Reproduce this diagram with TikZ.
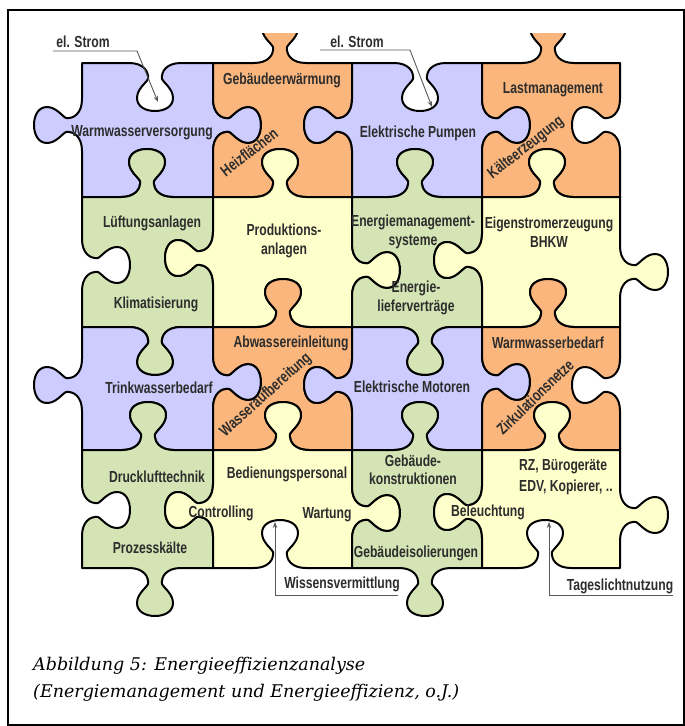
\documentclass[tikz,border=0pt]{standalone}
\usepackage{fontspec}
\newfontfamily\labfont[FakeStretch=0.76]{Liberation Sans Bold}
\newfontfamily\capfont{DejaVu Serif}
\usetikzlibrary{arrows.meta}
\definecolor{cpur}{RGB}{204,204,255}
\definecolor{cora}{RGB}{250,182,124}
\definecolor{cgrn}{RGB}{212,228,180}
\definecolor{cyel}{RGB}{255,255,204}
\definecolor{labc}{RGB}{45,45,45}
% horizontal edge tab: #1 centre x, #2 y, #3 direction (+1 down,-1 up), #4 traversal (+1 left->right)
\newcommand{\htab}[4]{%
 -- ({#1-26*(#4)},{#2})
 .. controls ({#1-12*(#4)},{#2}) and ({#1-6*(#4)},{#2+8*(#3)}) .. ({#1-7*(#4)},{#2+16*(#3)})
 .. controls ({#1-9*(#4)},{#2+20*(#3)}) and ({#1-18*(#4)},{#2+26*(#3)}) .. ({#1-18*(#4)},{#2+35*(#3)})
 .. controls ({#1-18*(#4)},{#2+44*(#3)}) and ({#1-9*(#4)},{#2+48*(#3)}) .. ({#1},{#2+48*(#3)})
 .. controls ({#1+9*(#4)},{#2+48*(#3)}) and ({#1+18*(#4)},{#2+44*(#3)}) .. ({#1+18*(#4)},{#2+35*(#3)})
 .. controls ({#1+18*(#4)},{#2+26*(#3)}) and ({#1+9*(#4)},{#2+20*(#3)}) .. ({#1+7*(#4)},{#2+16*(#3)})
 .. controls ({#1+6*(#4)},{#2+8*(#3)}) and ({#1+12*(#4)},{#2}) .. ({#1+26*(#4)},{#2})}
% vertical edge tab: #1 centre y, #2 x, #3 direction (+1 right,-1 left), #4 traversal (+1 downwards)
\newcommand{\vtab}[4]{%
 -- ({#2},{#1-26*(#4)})
 .. controls ({#2},{#1-12*(#4)}) and ({#2+8*(#3)},{#1-6*(#4)}) .. ({#2+16*(#3)},{#1-7*(#4)})
 .. controls ({#2+20*(#3)},{#1-9*(#4)}) and ({#2+26*(#3)},{#1-18*(#4)}) .. ({#2+35*(#3)},{#1-18*(#4)})
 .. controls ({#2+44*(#3)},{#1-18*(#4)}) and ({#2+48*(#3)},{#1-9*(#4)}) .. ({#2+48*(#3)},{#1})
 .. controls ({#2+48*(#3)},{#1+9*(#4)}) and ({#2+44*(#3)},{#1+18*(#4)}) .. ({#2+35*(#3)},{#1+18*(#4)})
 .. controls ({#2+26*(#3)},{#1+18*(#4)}) and ({#2+20*(#3)},{#1+9*(#4)}) .. ({#2+16*(#3)},{#1+7*(#4)})
 .. controls ({#2+8*(#3)},{#1+6*(#4)}) and ({#2},{#1+12*(#4)}) .. ({#2},{#1+26*(#4)})}
\tikzset{
  piece/.style={draw=black, line width=2pt, line join=round},
  lab/.style={font={\labfont\fontsize{16}{18.5}\selectfont}, text=labc, inner sep=0pt, align=center},
  ptr/.style={draw=black!65, line width=0.9pt},
  ptrtip/.style={ptr, -{Stealth[length=6pt,width=4.5pt]}},
  capt/.style={font={\capfont\itshape\fontsize{17.5}{21}\selectfont}, inner sep=0pt, anchor=base west},
}
\begin{document}
\begin{tikzpicture}[x=1pt,y=-1pt]
\useasboundingbox (0,0) rectangle (685,726);
\fill[white] (0,0) rectangle (685,726);
\draw[line width=1.8pt] (8,10) rectangle (684,725);
\begin{scope}
\clip (0,33) rectangle (685,726);
% row 1
\filldraw[piece, fill=cpur] (82,63) \htab{155}{63}{1}{1} -- (213,63) \vtab{125}{213}{1}{1} -- (213,197) \htab{147}{197}{-1}{-1} -- (82,197) \vtab{125}{82}{-1}{-1} -- cycle;
\filldraw[piece, fill=cora] (213,63) \htab{280}{63}{-1}{1} -- (352,63) \vtab{125}{352}{-1}{1} -- (352,197) \htab{280}{197}{-1}{-1} -- (213,197) \vtab{125}{213}{1}{-1} -- cycle;
\filldraw[piece, fill=cpur] (352,63) \htab{420}{63}{1}{1} -- (482,63) \vtab{125}{482}{1}{1} -- (482,197) \htab{415}{197}{-1}{-1} -- (352,197) \vtab{125}{352}{-1}{-1} -- cycle;
\filldraw[piece, fill=cora] (482,63) \htab{548}{63}{-1}{1} -- (620,63) \vtab{125}{620}{-1}{1} -- (620,197) \htab{547}{197}{-1}{-1} -- (482,197) \vtab{125}{482}{1}{-1} -- cycle;
% row 2
\filldraw[piece, fill=cgrn] (82,197) \htab{147}{197}{-1}{1} -- (213,197) \vtab{258}{213}{-1}{1} -- (213,327) \htab{155}{327}{1}{-1} -- (82,327) \vtab{265}{82}{1}{-1} -- cycle;
\filldraw[piece, fill=cyel] (213,197) \htab{280}{197}{-1}{1} -- (352,197) \vtab{270}{352}{1}{1} -- (352,327) \htab{283}{327}{-1}{-1} -- (213,327) \vtab{258}{213}{-1}{-1} -- cycle;
\filldraw[piece, fill=cgrn] (352,197) \htab{415}{197}{-1}{1} -- (482,197) \vtab{260}{482}{-1}{1} -- (482,327) \htab{425}{327}{1}{-1} -- (352,327) \vtab{270}{352}{1}{-1} -- cycle;
\filldraw[piece, fill=cyel] (482,197) \htab{547}{197}{-1}{1} -- (620,197) \vtab{272}{620}{1}{1} -- (620,327) \htab{548}{327}{-1}{-1} -- (482,327) \vtab{260}{482}{-1}{-1} -- cycle;
% row 3
\filldraw[piece, fill=cpur] (82,327) \htab{155}{327}{1}{1} -- (213,327) \vtab{382}{213}{1}{1} -- (213,450) \htab{148}{450}{-1}{-1} -- (82,450) \vtab{385}{82}{-1}{-1} -- cycle;
\filldraw[piece, fill=cora] (213,327) \htab{283}{327}{-1}{1} -- (352,327) \vtab{385}{352}{-1}{1} -- (352,450) \htab{283}{450}{-1}{-1} -- (213,450) \vtab{382}{213}{1}{-1} -- cycle;
\filldraw[piece, fill=cpur] (352,327) \htab{425}{327}{1}{1} -- (482,327) \vtab{382}{482}{1}{1} -- (482,450) \htab{420}{450}{-1}{-1} -- (352,450) \vtab{385}{352}{-1}{-1} -- cycle;
\filldraw[piece, fill=cora] (482,327) \htab{548}{327}{-1}{1} -- (620,327) \vtab{385}{620}{-1}{1} -- (620,450) \htab{552}{450}{-1}{-1} -- (482,450) \vtab{382}{482}{1}{-1} -- cycle;
% row 4
\filldraw[piece, fill=cgrn] (82,450) \htab{148}{450}{-1}{1} -- (213,450) \vtab{510}{213}{-1}{1} -- (213,568) \htab{155}{568}{1}{-1} -- (82,568) \vtab{510}{82}{1}{-1} -- cycle;
\filldraw[piece, fill=cyel] (213,450) \htab{283}{450}{-1}{1} -- (352,450) \vtab{513}{352}{1}{1} -- (352,568) \htab{280}{568}{-1}{-1} -- (213,568) \vtab{510}{213}{-1}{-1} -- cycle;
\filldraw[piece, fill=cgrn] (352,450) \htab{420}{450}{-1}{1} -- (482,450) \vtab{512}{482}{-1}{1} -- (482,568) \htab{425}{568}{1}{-1} -- (352,568) \vtab{513}{352}{1}{-1} -- cycle;
\filldraw[piece, fill=cyel] (482,450) \htab{552}{450}{-1}{1} -- (620,450) \vtab{515}{620}{1}{1} -- (620,568) \htab{545}{568}{-1}{-1} -- (482,568) \vtab{512}{482}{-1}{-1} -- cycle;
\end{scope}
% labels
\node[lab] (t11) at (142,133) {Warmwasserversorgung};
\node[lab] (t12) at (282,80) {Gebäudeerwärmung};
\node[lab, rotate=38] (t12b) at (249,152) {Heizflächen};
\node[lab] (t13) at (418,133) {Elektrische Pumpen};
\node[lab] (t14) at (553,90) {Lastmanagement};
\node[lab, rotate=38] (t14b) at (526,148) {Kälteerzeugung};
\node[lab] (t21) at (152,223) {Lüftungsanlagen};
\node[lab] (t21b) at (156,304) {Klimatisierung};
\node[lab] (t22) at (284,241) {Produktions-\\anlagen};
\node[lab] (t23) at (413,232) {Energiemanagement-\\systeme};
\node[lab] (t23b) at (416,298) {Energie-\\lieferverträge};
\node[lab] (t24) at (549,232) {Eigenstromerzeugung\\BHKW};
\node[lab] (t31) at (159,388) {Trinkwasserbedarf};
\node[lab] (t32) at (291,343) {Abwassereinleitung};
\node[lab, rotate=42] (t32b) at (266,395) {Wasseraufbereitung};
\node[lab] (t33) at (412,387) {Elektrische Motoren};
\node[lab] (t34) at (548,343) {Warmwasserbedarf};
\node[lab, rotate=44] (t34b) at (535,397) {Zirkulationsnetze};
\node[lab] (t41) at (157,477) {Drucklufttechnik};
\node[lab] (t41b) at (150,548) {Prozesskälte};
\node[lab] (t42) at (287,474) {Bedienungspersonal};
\node[lab] (t42b) at (221,513) {Controlling};
\node[lab] (t42c) at (327,515) {Wartung};
\node[lab] (t43) at (413,470) {Gebäude-\\konstruktionen};
\node[lab] (t43b) at (416,553) {Gebäudeisolierungen};
\node[lab, anchor=west] (t44) at (519,467) {RZ, Bürogeräte};
\node[lab, anchor=west] (t44c) at (519,487) {EDV, Kopierer, ..};
\node[lab] (t44b) at (488,512) {Beleuchtung};
% pointers
\node[lab] (es1) at (83,42) {el. Strom};
\coordinate (es1a) at (53,51); \coordinate (es1b) at (137,51); \coordinate (es1c) at (158,102);
\draw[ptrtip] (es1a) -- (es1b) -- (es1c);
\node[lab] (es2) at (357,42) {el. Strom};
\coordinate (es2a) at (320,50); \coordinate (es2b) at (410,50); \coordinate (es2c) at (432,107);
\draw[ptrtip] (es2a) -- (es2b) -- (es2c);
\node[lab] (wv) at (342,584) {Wissensvermittlung};
\coordinate (wva) at (398,595); \coordinate (wvb) at (275,595); \coordinate (wvc) at (275,522);
\draw[ptrtip] (wva) -- (wvb) -- (wvc);
\node[lab] (tl) at (620,586) {Tageslichtnutzung};
\coordinate (tla) at (673,595); \coordinate (tlb) at (549,595); \coordinate (tlc) at (549,522);
\draw[ptrtip] (tla) -- (tlb) -- (tlc);
% caption
\node[capt] (cap1) at (33,670) {Abbildung 5: Energieeffizienzanalyse};
\node[capt] (cap2) at (33,697) {(Energiemanagement und Energieeffizienz, o.J.)};
\end{tikzpicture}
\end{document}
